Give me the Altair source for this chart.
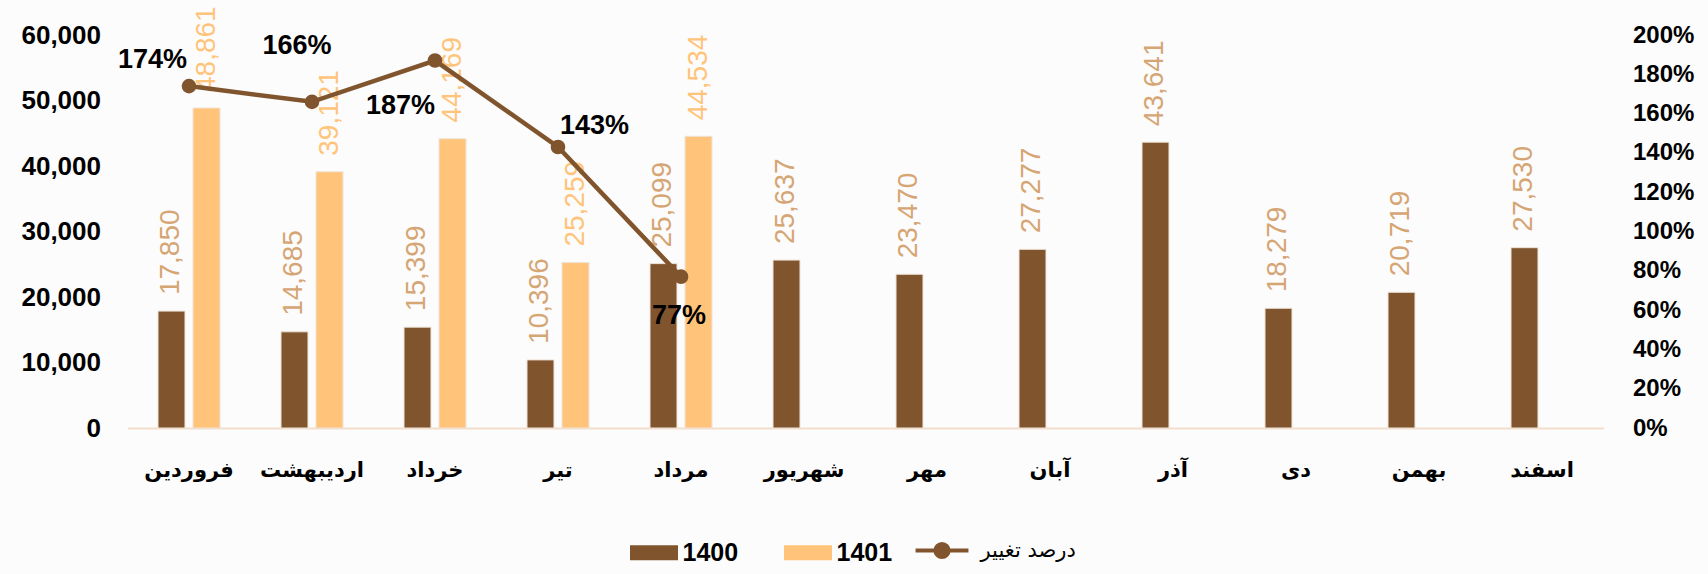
import altair as alt
import pandas as pd

months = ["فروردین", "اردیبهشت", "خرداد", "تیر", "مرداد", "شهریور",
          "مهر", "آبان", "آذر", "دی", "بهمن", "اسفند"]
v1400 = [17850, 14685, 15399, 10396, 25099, 25637, 23470, 27277, 43641, 18279, 20719, 27530]
v1401 = [48861, 39121, 44169, 25259, 44534, None, None, None, None, None, None, None]
change = [1.74, 1.66, 1.87, 1.43, 0.77]
years = ["1400", "1401"]
pct_ticks = [0, 0.2, 0.4, 0.6, 0.8, 1.0, 1.2, 1.4, 1.6, 1.8, 2.0]
line_name = "درصد تغییر"

BROWN = "#80552E"
PEACH = "#FFC47A"
TAN = "#D6A574"

rows = []
for m, a, b in zip(months, v1400, v1401):
    rows.append({"month": m, "year": "1400", "value": a})
    if b is not None:
        rows.append({"month": m, "year": "1401", "value": b})
bars_df = pd.DataFrame(rows)
line_df = pd.DataFrame({"month": months[:len(change)], "change": change, "series": line_name})

x_enc = alt.X("month:N", sort=months,
              scale=alt.Scale(paddingInner=0.496, paddingOuter=0.248),
              axis=alt.Axis(title=None, labelAngle=0, labelFont="DejaVu Sans",
                            labelFontWeight="bold", labelFontSize=21, labelColor="#000000",
                            ticks=False, domainColor="#F2DECB", domainWidth=2,
                            labelPadding=42, labelBaseline="middle", grid=False))
x_plain = alt.X("month:N", sort=months)
xo_enc = alt.XOffset("year:N", sort=years, scale=alt.Scale(paddingInner=0.229))
y_enc = alt.Y("value:Q", scale=alt.Scale(domain=[0, 60000], nice=False),
              axis=alt.Axis(title=None, orient="left", values=list(range(0, 60001, 10000)),
                            tickCount=20, format=",.0f", labelFont="Liberation Sans",
                            labelFontWeight="bold", labelFontSize=26, labelColor="#000000",
                            domain=False, ticks=False, grid=False, labelPadding=27,
                            labelOverlap=False))

bar_path = "M-3.2,-1H3.2V1H-3.2Z"
bars = alt.Chart(bars_df).mark_bar(stroke="#EFE3D8", strokeWidth=1).encode(
    x=x_enc, xOffset=xo_enc, y=y_enc,
    color=alt.Color("year:N", sort=years,
                    scale=alt.Scale(domain=years, range=[BROWN, PEACH]),
                    legend=alt.Legend(title=None, orient="none", legendX=514, legendY=505,
                                      direction="horizontal", symbolType=bar_path,
                                      symbolSize=225, symbolStrokeWidth=0, labelOffset=16,
                                      columnPadding=45, labelFont="Liberation Sans",
                                      labelFontWeight="bold", labelFontSize=25,
                                      labelColor="#000000"))
)
lab1400 = alt.Chart(bars_df).transform_filter(alt.datum.year == "1400").mark_text(
    angle=270, align="left", baseline="middle", dx=16, fontSize=28,
    font="Liberation Sans", color=TAN).encode(
    x=x_plain, xOffset=xo_enc, y=alt.Y("value:Q"),
    text=alt.Text("value:Q", format=","))
lab1401 = alt.Chart(bars_df).transform_filter(alt.datum.year == "1401").mark_text(
    angle=270, align="left", baseline="middle", dx=16, fontSize=28,
    font="Liberation Sans", color=PEACH).encode(
    x=x_plain, xOffset=xo_enc, y=alt.Y("value:Q"),
    text=alt.Text("value:Q", format=","))

bar_layer = alt.layer(bars, lab1400, lab1401)

y2 = alt.Y("change:Q", scale=alt.Scale(domain=[0, 2], nice=False),
           axis=alt.Axis(title=None, orient="right", values=pct_ticks, tickCount=20,
                         format=".0%", labelFont="Liberation Sans", labelFontWeight="bold",
                         labelFontSize=24, labelColor="#000000", domain=False, ticks=False,
                         grid=False, labelPadding=29, labelOverlap=False))

line_path = "M-3.6,0H3.6M0.9,0A0.9,0.9 0 1,1 -0.9,0A0.9,0.9 0 1,1 0.9,0Z"
line = alt.Chart(line_df).mark_line(
    strokeWidth=4.5,
    point=alt.OverlayMarkDef(filled=True, fill=BROWN, size=160)).encode(
    x=x_plain, y=y2,
    stroke=alt.Stroke("series:N", scale=alt.Scale(domain=[line_name], range=[BROWN]),
                      legend=alt.Legend(title=None, orient="none", legendX=804, legendY=505,
                                        symbolType=line_path, symbolSize=216,
                                        symbolStrokeWidth=4, symbolFillColor=BROWN,
                                        labelOffset=28, labelFont="DejaVu Sans",
                                        labelFontSize=21, labelColor="#000000"))
)

def pct_label(m, **kw):
    return alt.Chart(line_df).transform_filter(alt.datum.month == m).mark_text(
        font="Liberation Sans", fontWeight="bold", fontSize=27, color="#000000",
        baseline="middle", **kw).encode(
        x=x_plain, y=alt.Y("change:Q"),
        text=alt.Text("change:Q", format=".0%"))

line_layer = alt.layer(
    line,
    pct_label(months[0], align="right", dx=-2, dy=-26),
    pct_label(months[1], align="center", dx=-15, dy=-56),
    pct_label(months[2], align="right", dx=0, dy=45),
    pct_label(months[3], align="left", dx=2, dy=-21),
    pct_label(months[4], align="center", dx=-2, dy=39),
)

chart = alt.layer(bar_layer, line_layer).resolve_scale(y="independent").properties(
    width=1476, height=393,
    autosize=alt.AutoSizeParams(type="none"),
    padding={"left": 127.5, "top": 35, "right": 104.5, "bottom": 146},
    background="#FCFCFC",
).configure_view(stroke=None).configure_axis(labelOverlap=False)

chart.save("out.html", embed_options={"renderer": "svg", "actions": False})
